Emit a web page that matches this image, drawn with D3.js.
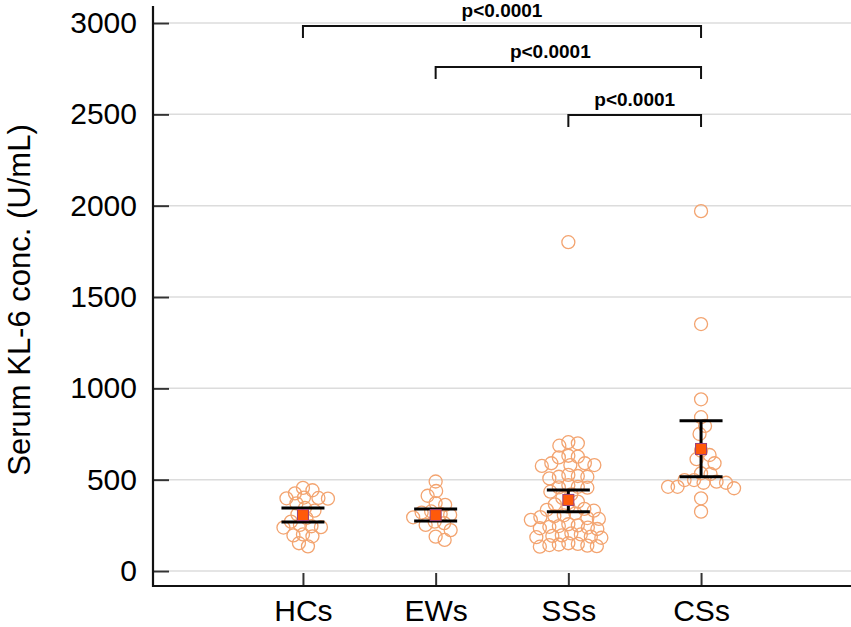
<!DOCTYPE html>
<html>
<head>
<meta charset="utf-8">
<script src="https://cdn.jsdelivr.net/npm/d3@7"></script>
<style>
  body { margin: 0; background: #fff; overflow: hidden; }
  svg { display: block; }
  text { font-family: "Liberation Sans", Arial, sans-serif; }
</style>
</head>
<body>
<div id="chart-area"></div>
<script>
// groups and individual values (U/mL)
var categories = ['HCs', 'EWs', 'SSs', 'CSs'];

var hcValues = [455, 442, 425, 402, 400, 398, 396, 370, 345, 330, 310, 290, 270,
    252, 245, 240, 238, 200, 195, 190, 152, 135];

var ewValues = [490, 438, 412, 372, 362, 326, 320, 312, 307, 294, 270, 262, 252,
    224, 188, 170];

var ssValues = [1800, 705, 699, 686, 631, 626, 622, 590, 590, 580, 580, 575,
    526, 520, 516, 516, 507, 470, 461, 458, 456, 434,
    420, 400, 380, 365, 352, 340, 335, 330,
    316, 305, 300, 295, 290, 285, 280,
    256, 250, 246, 242, 238, 234, 230,
    206, 200, 195, 192, 188, 185, 182,
    152, 148, 145, 142, 139, 136, 133];

var csValues = [1970, 1352, 940, 842, 794, 750, 659, 635, 612, 590, 535, 531,
    498, 498, 489, 483, 483, 461, 461, 453, 398, 325];

// mean and 95% CI per group
var means = [306, 306, 389, 668];
var ciLow = [268, 274, 325, 516];
var ciHigh = [345, 339, 443, 823];

var yTicks = [0, 500, 1000, 1500, 2000, 2500, 3000];

// significance brackets: from, to, level (U/mL), label
var bracketFrom = ['HCs', 'EWs', 'SSs'];
var bracketTo = ['CSs', 'CSs', 'CSs'];
var bracketLevel = [2984, 2759, 2496];
var bracketLabel = ['p<0.0001', 'p<0.0001', 'p<0.0001'];

var groups = [hcValues, ewValues, ssValues, csValues];

var W = 851, H = 627;
var axisX = 153, axisY = 586;

var svg = d3.select('#chart-area')
    .append('svg')
    .attr('width', W)
    .attr('height', H);

var x = d3.scalePoint()
    .domain(categories)
    .range([axisX, W])
    .padding(1.13);

var y = d3.scaleLinear()
    .domain([0, 3000])
    .range([571, 23]);

// gridlines
svg.append('g')
    .selectAll('line')
    .data(yTicks)
    .enter()
    .append('line')
    .attr('x1', axisX + 16)
    .attr('x2', W)
    .attr('y1', function (d) { return y(d); })
    .attr('y2', function (d) { return y(d); })
    .attr('stroke', '#dcdcdc')
    .attr('stroke-width', 1.5);

// y axis, ticks pointing inward
var yAxisCall = d3.axisLeft(y)
    .tickValues(yTicks)
    .tickFormat(d3.format('d'))
    .tickSize(-16)
    .tickPadding(16)
    .tickSizeOuter(0);
var yAxis = svg.append('g')
    .attr('transform', 'translate(' + axisX + ',0)')
    .call(yAxisCall);
yAxis.select('.domain').remove();
yAxis.selectAll('line').attr('stroke', '#333').attr('stroke-width', 2);
yAxis.selectAll('text')
    .attr('font-size', 30)
    .attr('fill', '#000')
    .style('font-family', '"Liberation Sans", Arial, sans-serif');

// x axis
var xAxisCall = d3.axisBottom(x)
    .tickSize(-13)
    .tickPadding(14)
    .tickSizeOuter(0);
var xAxis = svg.append('g')
    .attr('transform', 'translate(0,' + axisY + ')')
    .call(xAxisCall);
xAxis.select('.domain').remove();
xAxis.selectAll('line').attr('stroke', '#333').attr('stroke-width', 2);
xAxis.selectAll('text')
    .attr('font-size', 30)
    .attr('fill', '#000')
    .style('font-family', '"Liberation Sans", Arial, sans-serif');

// axis lines
svg.append('line')
    .attr('x1', axisX).attr('x2', axisX)
    .attr('y1', 6).attr('y2', axisY + 1)
    .attr('stroke', '#111').attr('stroke-width', 2.2);
svg.append('line')
    .attr('x1', axisX - 1).attr('x2', W)
    .attr('y1', axisY).attr('y2', axisY)
    .attr('stroke', '#111').attr('stroke-width', 2.2);

// y title
svg.append('text')
    .attr('transform', 'translate(30,' + 300 + ') rotate(-90)')
    .attr('text-anchor', 'middle')
    .attr('font-size', 31)
    .attr('fill', '#000')
    .text('Serum KL-6 conc. (U/mL)');

// simple beeswarm: place each dot as close to the centre as possible
var r = 6.5;
var minDist = 9.5;
function swarm(values, cx) {
    var placed = [];
    values.slice().sort(function (a, b) { return b - a; }).forEach(function (v) {
        var cy = y(v);
        for (var k = 0; k < 400; k++) {
            var off = (k % 2 ? 1 : -1) * Math.ceil(k / 2) * 0.5;
            var ok = placed.every(function (p) {
                var dx = p.x - (cx + off), dy = p.y - cy;
                return dx * dx + dy * dy >= minDist * minDist;
            });
            if (ok) {
                placed.push({ x: cx + off, y: cy });
                break;
            }
        }
    });
    return placed;
}

var dots = svg.append('g');
groups.forEach(function (vals, i) {
    var pts = swarm(vals, x(categories[i]));
    dots.selectAll('circle.g' + i)
        .data(pts)
        .enter()
        .append('circle')
        .attr('class', 'g' + i)
        .attr('cx', function (d) { return d.x; })
        .attr('cy', function (d) { return d.y; })
        .attr('r', r)
        .attr('fill', 'none')
        .attr('stroke', '#f3a470')
        .attr('stroke-width', 1.3);
});

// mean + CI bars
var bars = svg.append('g');
var half = 21.5;
categories.forEach(function (c, i) {
    var cx = x(c);
    bars.append('line')
        .attr('x1', cx).attr('x2', cx)
        .attr('y1', y(ciLow[i])).attr('y2', y(ciHigh[i]))
        .attr('stroke', '#000').attr('stroke-width', 3);
    [ciLow[i], ciHigh[i]].forEach(function (v) {
        bars.append('line')
            .attr('x1', cx - half).attr('x2', cx + half)
            .attr('y1', y(v)).attr('y2', y(v))
            .attr('stroke', '#000').attr('stroke-width', 3);
    });
    bars.append('rect')
        .attr('x', cx - 5.5).attr('y', y(means[i]) - 5.5)
        .attr('width', 11).attr('height', 11)
        .attr('fill', '#ff5a0a')
        .attr('stroke', '#9a3f78')
        .attr('stroke-width', 1);
});

// significance brackets
var drop = 12;
var br = svg.append('g');
bracketLevel.forEach(function (lv, i) {
    var x1 = x(bracketFrom[i]), x2 = x(bracketTo[i]), by = y(lv);
    br.append('path')
        .attr('d', 'M' + x1 + ',' + (by + drop) + 'V' + by + 'H' + x2 + 'V' + (by + drop))
        .attr('fill', 'none')
        .attr('stroke', '#111')
        .attr('stroke-width', 2);
    br.append('text')
        .attr('x', (x1 + x2) / 2 + (i === 1 ? -18 : 0))
        .attr('y', by - 9)
        .attr('text-anchor', 'middle')
        .attr('font-size', 19)
        .attr('font-weight', 'bold')
        .attr('fill', '#000')
        .text(bracketLabel[i]);
});
</script>
</body>
</html>
